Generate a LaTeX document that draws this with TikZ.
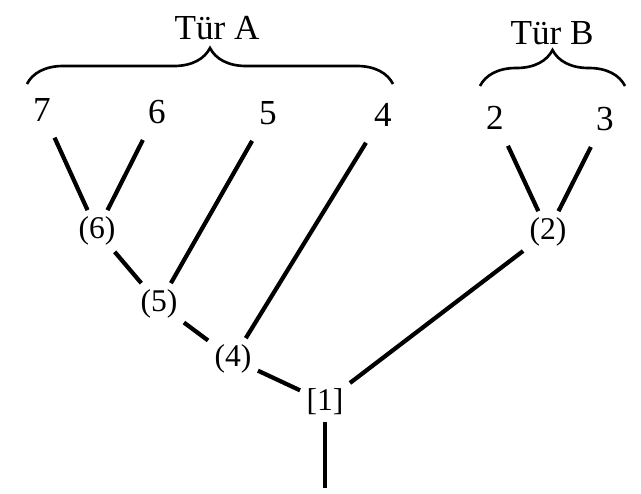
\documentclass[tikz,border=0pt]{standalone}
\usepackage{fontspec}
\setmainfont{Liberation Serif}
\usetikzlibrary{decorations.pathreplacing}

\begin{document}
\begin{tikzpicture}[x=0.02cm, y=-0.02cm, line width=2.4pt,
    leaf/.style={font=\fontsize{20}{24}\selectfont, inner sep=8pt},
    clade/.style={font=\fontsize{18}{21}\selectfont, inner sep=2.5pt},
    grp/.style={font=\fontsize{20}{24}\selectfont},
    bracket/.style={line width=1.5pt, decorate, decoration={brace, amplitude=0.72cm}}]
        \useasboundingbox (0,0) rectangle (641,493);

        % species at the tips
        \node[leaf] (n7) at (42,110) {7};
        \node[leaf] (n6) at (157,112) {6};
        \node[leaf] (n5) at (268,113) {5};
        \node[leaf] (n4) at (383,115) {4};
        \node[leaf] (n2) at (495,118) {2};
        \node[leaf] (n3) at (605,119) {3};

        % branch points
        \node[clade] (c6) at (97,231) {(6)};
        \node[clade] (c5) at (159,304) {(5)};
        \node[clade] (c4) at (233,359) {(4)};
        \node[clade] (c2) at (548,232) {(2)};
        \node[clade] (c1) at (325,402) {[1]};
        \coordinate (base) at (325,488);

        \draw (n7) -- (c6);
        \draw (n6) -- (c6);
        \draw (c6) -- (c5);
        \draw (n5) -- (c5);
        \draw (c5) -- (c4);
        \draw (n4) -- (c4);
        \draw (c4) -- (c1);
        \draw (n2) -- (c2);
        \draw (n3) -- (c2);
        \draw (c2) -- (c1);
        \draw (c1) -- (base);

        % groups
        \coordinate (a1) at (27,84);
        \coordinate (a2) at (393,84);
        \coordinate (b1) at (480,86);
        \coordinate (b2) at (625,86);
        \draw[bracket] (a1) -- (a2);
        \draw[bracket] (b1) -- (b2);
        \node[grp] (tA) at (217,28) {Tür A};
        \node[grp] (tB) at (552,33) {Tür B};
      \end{tikzpicture}
\end{document}
